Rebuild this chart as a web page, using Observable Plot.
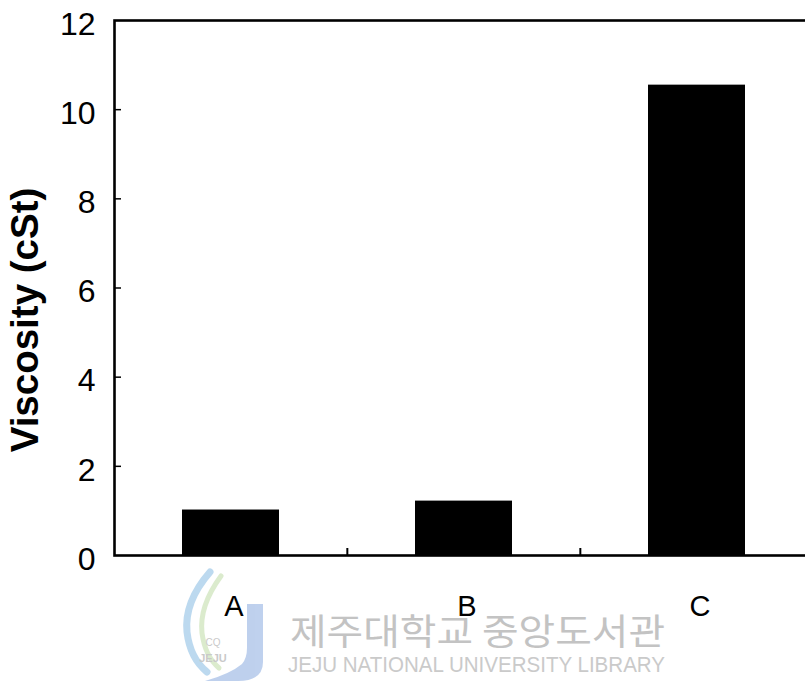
<!DOCTYPE html>
<html>
<head>
<meta charset="utf-8">
<script src="https://cdn.jsdelivr.net/npm/d3@7"></script>
<script src="https://cdn.jsdelivr.net/npm/@observablehq/plot@0.6"></script>
<style>
  body { margin: 0; background: #fff; }
  #chart { position: relative; width: 805px; height: 681px; overflow: hidden; }
  #chart svg { display: block; }
  #mark { position: absolute; left: 0; top: 0; pointer-events: none; }
</style>
</head>
<body>
<div id="chart"></div>
<script>
// Kinematic viscosity of the three samples
const samples = ["A", "B", "C"];
const viscosity = [1.02, 1.22, 10.55];
const yTicks = [0, 2, 4, 6, 8, 10, 12];
const yLabel = "Viscosity (cSt)";
const libraryNameKo = "제주대학교 중앙도서관";
const libraryNameEn = "JEJU NATIONAL UNIVERSITY LIBRARY";

const data = samples.map((s, i) => ({sample: s, viscosity: viscosity[i]}));

const W = 805, H = 681;
const mL = 114, mT = 20, mB = 126, mR = -11;
const xRange = [113, 813];
const step = (xRange[1] - xRange[0]) / samples.length;
const frameW = W - mR - mL, frameH = H - mT - mB;
const font = "'Liberation Sans', Arial, Helvetica, sans-serif";

const chart = Plot.plot({
  width: W,
  height: H,
  marginLeft: mL,
  marginTop: mT,
  marginBottom: mB,
  marginRight: mR,
  style: {fontFamily: font, background: "#fff", color: "#000", overflow: "hidden"},
  x: {domain: samples, range: xRange, paddingInner: 0.584, paddingOuter: 0.292, axis: null},
  y: {domain: [0, 12], axis: null},
  marks: [
    Plot.barY(data, {x: "sample", y: "viscosity", fill: "#000"}),
    // inward tick marks on the value axis
    Plot.tickY(yTicks.slice(1, -1), {y: d => d, stroke: "#000", strokeWidth: 1.5, insetRight: frameW - 7}),
    // inward tick marks between the sample groups
    Plot.tickX(samples.slice(1), {x: d => d, dx: -step / 2, stroke: "#000", strokeWidth: 2, insetTop: frameH - 7}),
    Plot.axisY({ticks: yTicks, tickSize: 0, tickPadding: 19, fontSize: 32, dy: 4, label: null}),
    Plot.axisX({tickSize: 0, tickPadding: 40, fontSize: 29, dx: 3, label: null}),
    Plot.frame({stroke: "#000", strokeWidth: 2.6}),
    Plot.text([yLabel], {text: d => d, frameAnchor: "left", textAnchor: "middle", rotate: -90,
      dx: -89, dy: 32, fontSize: 38.5, fontWeight: "bold", fill: "#000"})
  ]
});

const host = document.getElementById("chart");
host.appendChild(chart);

// Library stamp printed beneath the chart
const stamp = d3.select(host).append("svg")
  .attr("id", "mark").attr("width", W).attr("height", H);
const logo = stamp.append("g").attr("opacity", 0.75);
logo.append("path")
  .attr("d", "M210,572 Q184,602 187,632 Q190,658 207,672")
  .attr("fill", "none").attr("stroke", "#a6cdea").attr("stroke-width", 7).attr("stroke-linecap", "round");
logo.append("path")
  .attr("d", "M221,576 Q199,606 202,633 Q205,656 219,668")
  .attr("fill", "none").attr("stroke", "#cfe5bd").attr("stroke-width", 5).attr("stroke-linecap", "round");
logo.append("path")
  .attr("d", "M247,604 L263,604 L263,662 Q263,681 238,681 L205,681 Q230,674 242,664 Q247,658 247,648 Z")
  .attr("fill", "#a9c1e8");
logo.append("text").attr("x", 213).attr("y", 646).attr("text-anchor", "middle")
  .attr("font-family", font).attr("font-size", 10).attr("fill", "#b8b8b8").text("CQ");
logo.append("text").attr("x", 213).attr("y", 662).attr("text-anchor", "middle")
  .attr("font-family", font).attr("font-size", 11).attr("font-weight", "bold").attr("fill", "#b8b8b8").text("JEJU");

stamp.append("text")
  .attr("x", 290).attr("y", 645)
  .attr("font-family", "'Noto Sans CJK KR', sans-serif").attr("font-size", 36)
  .attr("textLength", 375).attr("lengthAdjust", "spacingAndGlyphs")
  .attr("fill", "#c3c3c3").text(libraryNameKo);
stamp.append("text")
  .attr("x", 288).attr("y", 672)
  .attr("font-family", font).attr("font-size", 22)
  .attr("textLength", 377).attr("lengthAdjust", "spacingAndGlyphs")
  .attr("fill", "#cacaca").text(libraryNameEn);
</script>
</body>
</html>
